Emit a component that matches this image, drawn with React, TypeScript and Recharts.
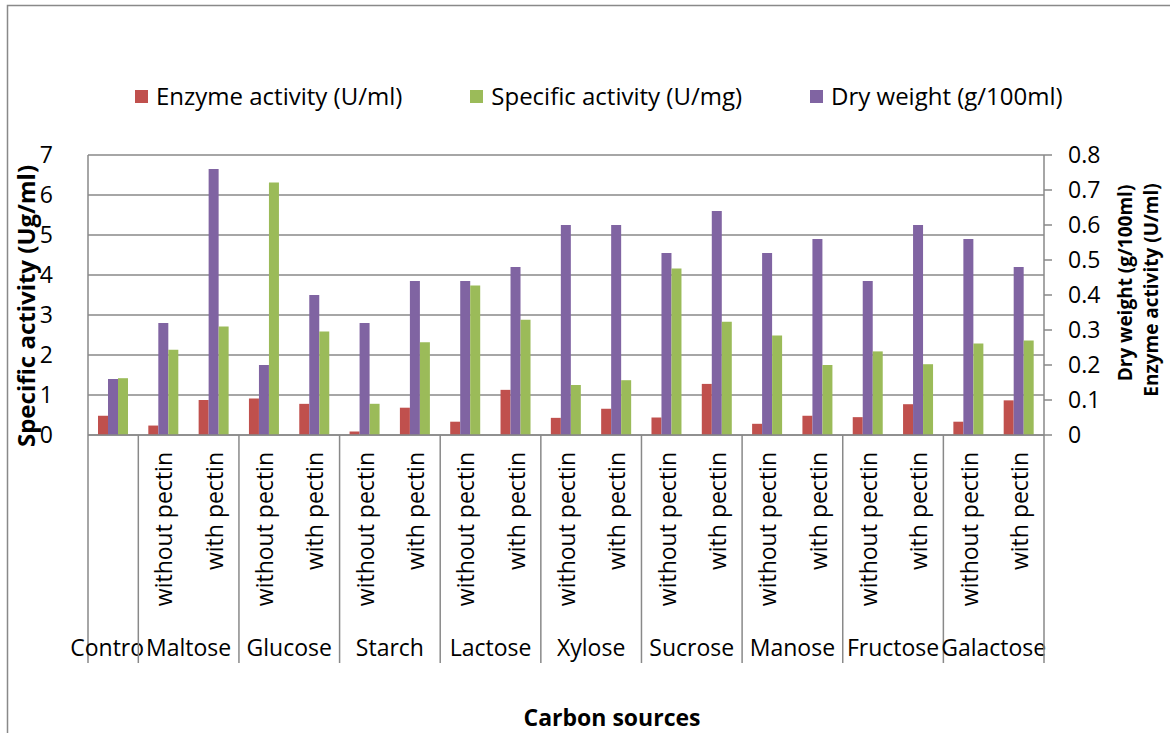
import { Bar, BarChart, CartesianGrid, XAxis, YAxis } from "recharts";

// Carbon source groups along the x axis (Control has a single bar group)
const groupLabels = [
  "Contro",
  "Maltose",
  "Glucose",
  "Starch",
  "Lactose",
  "Xylose",
  "Sucrose",
  "Manose",
  "Fructose",
  "Galactose",
];
const groupSizes = [1, 2, 2, 2, 2, 2, 2, 2, 2, 2];
const pectinLabels = ["without pectin", "with pectin"];

// U/ml, right axis
const enzymeActivity = [
  0.055, 0.027, 0.1, 0.104, 0.089, 0.01, 0.078, 0.038, 0.129, 0.049, 0.075,
  0.05, 0.146, 0.032, 0.055, 0.051, 0.088, 0.038, 0.099,
];
// U/mg, left axis
const specificActivity = [
  1.42, 2.13, 2.71, 6.31, 2.59, 0.78, 2.32, 3.74, 2.88, 1.25, 1.37, 4.16, 2.83,
  2.49, 1.75, 2.09, 1.77, 2.29, 2.36,
];
// g/100ml, right axis
const dryWeight = [
  0.16, 0.32, 0.76, 0.2, 0.4, 0.32, 0.44, 0.44, 0.48, 0.6, 0.6, 0.52, 0.64,
  0.52, 0.56, 0.44, 0.6, 0.56, 0.48,
];

const leftTicks = [0, 1, 2, 3, 4, 5, 6, 7];
const rightTicks = [0, 0.1, 0.2, 0.3, 0.4, 0.5, 0.6, 0.7, 0.8];

const legendItems = [
  { name: "Enzyme activity (U/ml)", color: "#C0504D" },
  { name: "Specific activity (U/mg)", color: "#9BBB59" },
  { name: "Dry weight (g/100ml)", color: "#8064A2" },
];

type Row = {
  id: string;
  label: string;
  groupStart: boolean;
  groupSize: number;
  group: string;
  enzyme: number;
  specific: number;
  dry: number;
};

const rows: Row[] = [];
groupLabels.forEach((group, g) => {
  const size = groupSizes[g];
  for (let k = 0; k < size; k++) {
    const i = rows.length;
    rows.push({
      id: `${group}-${k}`,
      label: size === 1 ? "" : pectinLabels[k],
      groupStart: k === 0,
      groupSize: size,
      group,
      enzyme: enzymeActivity[i],
      specific: specificActivity[i],
      dry: dryWeight[i],
    });
  }
});

const W = 1170;
const H = 733;
const PLOT_LEFT = 88;
const PLOT_RIGHT = 1044;
const PLOT_TOP = 155;
const PLOT_BOTTOM = 435;
const BAND = (PLOT_RIGHT - PLOT_LEFT) / rows.length;
const SEP_BOTTOM = 663;

const FONT = "'Open Sans', sans-serif";
const GRID = "#898989";

const CategoryTick = (props: any) => {
  const { x, index } = props;
  const row = rows[index];
  if (!row) return null;
  const left = x - BAND / 2;
  const groupCenter = x + ((row.groupSize - 1) * BAND) / 2;
  const isLast = index === rows.length - 1;
  return (
    <g fontFamily={FONT} fontSize={23} fill="#000">
      {row.label && (
        <text
          transform={`translate(${x},${PLOT_BOTTOM + 17}) rotate(-90)`}
          textAnchor="end"
          dominantBaseline="central"
        >
          {row.label}
        </text>
      )}
      {row.groupStart && (
        <>
          <line
            x1={left}
            x2={left}
            y1={PLOT_BOTTOM}
            y2={SEP_BOTTOM}
            stroke={GRID}
            strokeWidth={1.5}
          />
          <text
            x={row.groupSize === 1 ? groupCenter - 6 : groupCenter}
            y={647}
            textAnchor="middle"
            dominantBaseline="central"
          >
            {row.group}
          </text>
        </>
      )}
      {isLast && (
        <line
          x1={x + BAND / 2}
          x2={x + BAND / 2}
          y1={PLOT_BOTTOM}
          y2={SEP_BOTTOM}
          stroke={GRID}
          strokeWidth={1.5}
        />
      )}
    </g>
  );
};

export default function App() {
  const tickStyle = { fontFamily: FONT, fontSize: 23, fill: "#000" };
  return (
    <div
      style={{
        position: "absolute",
        left: 0,
        top: 0,
        width: W,
        height: H,
        background: "#fff",
      }}
    >
      <BarChart
        width={W}
        height={H}
        data={rows}
        margin={{ top: PLOT_TOP, right: W - PLOT_RIGHT - 60, bottom: 68, left: PLOT_LEFT - 60 }}
        barGap={0}
        barSize={10}
      >
        <CartesianGrid
          yAxisId="left"
          vertical={false}
          stroke={GRID}
          strokeWidth={1.5}
        />
        <XAxis
          dataKey="id"
          interval={0}
          height={230}
          tickLine={false}
          axisLine={{ stroke: GRID, strokeWidth: 1.5 }}
          tick={<CategoryTick />}
        />
        <YAxis
          yAxisId="left"
          orientation="left"
          width={60}
          domain={[0, 7]}
          ticks={leftTicks}
          interval={0}
          tickLine={false}
          tickSize={0}
          tickMargin={35}
          axisLine={{ stroke: GRID, strokeWidth: 1.5 }}
          tick={tickStyle}
        />
        <YAxis
          yAxisId="right"
          orientation="right"
          width={60}
          domain={[0, 0.8]}
          ticks={rightTicks}
          interval={0}
          tickSize={8}
          tickMargin={16}
          tickLine={{ stroke: GRID, strokeWidth: 1.5 }}
          axisLine={{ stroke: GRID, strokeWidth: 1.5 }}
          tick={tickStyle}
        />
        <Bar
          yAxisId="right"
          dataKey="enzyme"
          name={legendItems[0].name}
          fill={legendItems[0].color}
          isAnimationActive={false}
        />
        <Bar
          yAxisId="right"
          dataKey="dry"
          name={legendItems[2].name}
          fill={legendItems[2].color}
          isAnimationActive={false}
        />
        <Bar
          yAxisId="left"
          dataKey="specific"
          name={legendItems[1].name}
          fill={legendItems[1].color}
          isAnimationActive={false}
        />
      </BarChart>

      {/* frame and axis titles */}
      <svg
        width={W}
        height={H}
        style={{ position: "absolute", left: 0, top: 0, pointerEvents: "none" }}
        fontFamily={FONT}
      >
        <rect x={7.5} y={5.5} width={W} height={H} fill="none" stroke={GRID} strokeWidth={1.5} />
        <text
          transform={`translate(25,306) rotate(-90)`}
          textAnchor="middle"
          dominantBaseline="central"
          fontSize={24}
          fontWeight={700}
        >
          Specific activity (Ug/ml)
        </text>
        <text
          transform={`translate(1125,283) rotate(-90)`}
          textAnchor="middle"
          dominantBaseline="central"
          fontSize={19}
          fontWeight={700}
        >
          Dry weight (g/100ml)
        </text>
        <text
          transform={`translate(1151,290) rotate(-90)`}
          textAnchor="middle"
          dominantBaseline="central"
          fontSize={19}
          fontWeight={700}
        >
          Enzyme activity (U/ml)
        </text>
        <text
          x={612}
          y={717}
          textAnchor="middle"
          dominantBaseline="central"
          fontSize={23}
          fontWeight={700}
        >
          Carbon sources
        </text>
      </svg>

      {/* legend, in reading order */}
      <div
        style={{
          position: "absolute",
          left: 135,
          top: 82,
          display: "flex",
          gap: 68,
          fontFamily: FONT,
          fontSize: 24,
          lineHeight: "28px",
          whiteSpace: "nowrap",
        }}
      >
        {legendItems.map((item) => (
          <div key={item.name} style={{ display: "flex", alignItems: "center", gap: 8 }}>
            <span style={{ width: 13, height: 13, background: item.color, display: "inline-block" }} />
            <span>{item.name}</span>
          </div>
        ))}
      </div>
    </div>
  );
}
